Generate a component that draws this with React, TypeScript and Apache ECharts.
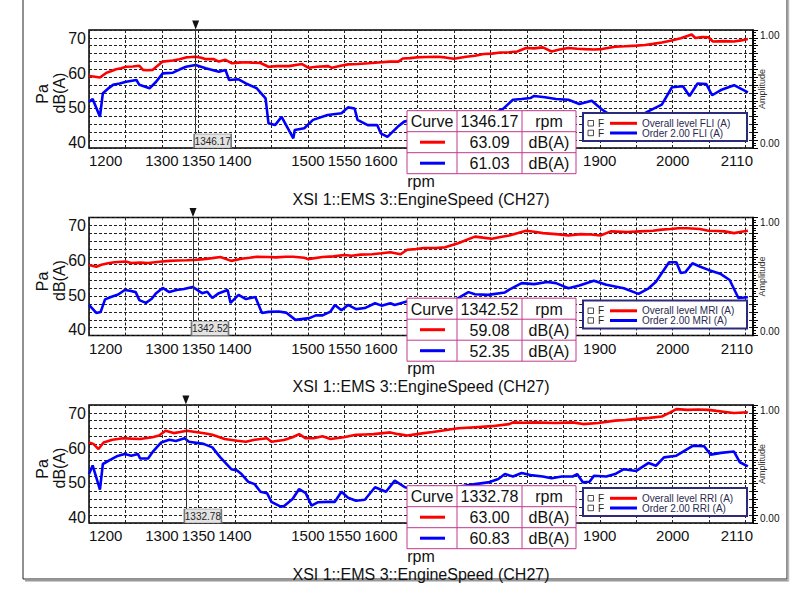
import { useEffect, useRef } from 'react';
import * as echarts from 'echarts';

// axis labels (the ones under the readout table are not shown in the original)
const rpmLabels = [1200, 1300, 1350, 1400, 1500, 1550, 1600, 1900, 2000, 2110];
const dbLabels = [40, 50, 60, 70];
const ampLabels = [0, 1];

// cursor readouts
const positions = ['FLI', 'MRI', 'RRI'];
const cursorRpm = [1346.17, 1342.52, 1332.78];
const cursorOverall = [63.09, 59.08, 63.0];
const cursorOrder2 = [61.03, 52.35, 60.83];

// [rpm, dB(A)]
const fliOverall: [number, number][] = [
  [1200, 59.1], [1206, 59.0], [1215, 58.7], [1224, 60.1], [1230, 60.5], [1237, 61.1], [1244, 61.4], [1251, 61.8],
  [1260, 61.9], [1269, 62.1], [1274, 60.9], [1280, 60.8], [1287, 60.9], [1301, 63.3], [1315, 63.6], [1324, 64.0],
  [1333, 64.5], [1340, 64.6], [1346, 64.7], [1354, 64.4], [1360, 64.0], [1371, 64.0], [1378, 63.3], [1387, 63.8],
  [1396, 62.8], [1405, 63.0], [1415, 63.1], [1423, 63.0], [1435, 62.9], [1446, 61.8], [1458, 62.0], [1474, 62.0],
  [1492, 62.6], [1501, 61.5], [1512, 61.8], [1528, 62.0], [1533, 61.5], [1545, 62.1], [1555, 62.5], [1568, 62.6],
  [1583, 62.8], [1601, 63.1], [1612, 63.3], [1624, 63.3], [1630, 64.2], [1640, 64.3], [1648, 64.5], [1662, 64.6],
  [1677, 64.7], [1688, 64.5], [1700, 64.1], [1717, 64.7], [1729, 65.0], [1741, 65.5], [1752, 65.6], [1764, 65.9],
  [1776, 66.0], [1787, 66.2], [1799, 67.2], [1810, 67.1], [1822, 67.4], [1834, 66.2], [1845, 66.8], [1857, 67.2],
  [1869, 67.0], [1880, 66.9], [1892, 66.8], [1903, 66.9], [1921, 67.6], [1935, 67.7], [1950, 67.9], [1962, 68.1],
  [1973, 68.4], [1985, 68.8], [1997, 69.3], [2011, 70.0], [2026, 71.1], [2031, 70.1], [2040, 70.4], [2049, 70.3],
  [2055, 69.1], [2070, 69.2], [2084, 69.1], [2094, 69.4], [2103, 69.8]
];
const fliOrder2: [number, number][] = [
  [1200, 51.7], [1205, 52.5], [1215, 47.4], [1219, 54.2], [1226, 55.5], [1233, 56.6], [1242, 57.0], [1251, 57.5],
  [1265, 58.0], [1269, 56.6], [1283, 55.6], [1292, 57.5], [1301, 59.9], [1315, 60.1], [1324, 61.0], [1333, 61.8],
  [1346, 62.3], [1360, 61.4], [1369, 60.9], [1378, 60.4], [1387, 60.9], [1392, 58.0], [1405, 58.2], [1415, 57.0],
  [1430, 55.6], [1442, 52.7], [1446, 45.5], [1455, 45.0], [1464, 47.4], [1480, 41.2], [1482, 43.6], [1495, 44.1],
  [1507, 46.5], [1527, 47.9], [1546, 48.4], [1555, 50.1], [1564, 49.8], [1568, 46.5], [1582, 45.0], [1595, 45.0],
  [1600, 42.6], [1609, 41.6], [1623, 44.5], [1632, 46.0], [1650, 46.8], [1665, 47.5], [1680, 46.9], [1700, 47.8],
  [1720, 48.3], [1740, 47.6], [1755, 48.6], [1767, 49.6], [1781, 52.3], [1793, 52.5], [1805, 52.8], [1810, 53.4],
  [1825, 53.0], [1840, 52.5], [1857, 52.3], [1872, 51.1], [1889, 52.0], [1903, 49.5], [1915, 47.8], [1930, 46.9],
  [1945, 47.5], [1960, 48.2], [1967, 49.0], [1985, 50.9], [1999, 55.9], [2014, 56.2], [2023, 53.4], [2034, 57.0],
  [2046, 56.8], [2054, 53.6], [2066, 55.1], [2084, 56.5], [2103, 54.4]
];
const mriOverall: [number, number][] = [
  [1200, 58.7], [1210, 58.2], [1217, 58.8], [1226, 59.2], [1235, 59.5], [1250, 59.7], [1258, 59.3], [1270, 59.4],
  [1281, 59.3], [1300, 59.7], [1310, 59.9], [1322, 60.0], [1334, 60.1], [1345, 60.2], [1357, 60.4], [1369, 60.7],
  [1380, 61.0], [1395, 59.9], [1409, 60.5], [1420, 60.8], [1430, 61.1], [1445, 61.0], [1456, 60.9], [1470, 61.1],
  [1480, 61.1], [1495, 60.8], [1500, 60.4], [1520, 61.0], [1535, 61.2], [1550, 61.6], [1560, 61.4], [1572, 61.7],
  [1588, 61.8], [1601, 62.1], [1613, 62.4], [1627, 61.8], [1636, 63.1], [1648, 63.3], [1659, 63.6], [1675, 63.6],
  [1688, 63.8], [1706, 65.0], [1718, 66.0], [1729, 66.9], [1740, 66.6], [1752, 66.3], [1764, 66.8], [1776, 67.2],
  [1788, 67.9], [1799, 68.6], [1810, 68.3], [1822, 67.9], [1840, 67.6], [1857, 67.2], [1874, 67.6], [1888, 67.5],
  [1901, 67.2], [1915, 68.4], [1938, 68.2], [1955, 68.4], [1973, 68.6], [1985, 68.9], [1997, 69.1], [2008, 69.3],
  [2020, 69.3], [2037, 69.1], [2049, 68.6], [2060, 68.5], [2071, 68.4], [2084, 67.9], [2094, 68.3], [2103, 68.6]
];
const mriOrder2: [number, number][] = [
  [1200, 47.2], [1210, 44.9], [1216, 45.2], [1222, 48.8], [1230, 49.5], [1240, 50.2], [1249, 51.5], [1256, 51.3],
  [1264, 50.9], [1269, 48.6], [1278, 47.8], [1286, 49.0], [1292, 50.6], [1301, 52.1], [1310, 50.9], [1320, 51.5],
  [1330, 51.8], [1342, 52.4], [1355, 50.6], [1362, 51.0], [1369, 49.2], [1378, 50.6], [1390, 51.5], [1394, 47.8],
  [1405, 50.1], [1415, 48.9], [1428, 49.5], [1437, 44.9], [1446, 45.2], [1460, 45.3], [1470, 45.0], [1483, 42.9],
  [1502, 43.4], [1511, 44.2], [1520, 44.2], [1531, 45.3], [1537, 47.2], [1546, 45.7], [1555, 47.2], [1566, 46.0],
  [1578, 46.3], [1592, 47.7], [1601, 47.0], [1613, 47.7], [1619, 47.2], [1639, 48.4], [1645, 47.7], [1660, 47.0],
  [1675, 48.1], [1690, 47.4], [1700, 48.5], [1706, 49.2], [1720, 50.9], [1729, 50.3], [1747, 50.1], [1770, 50.8],
  [1776, 51.6], [1793, 53.5], [1810, 53.2], [1828, 53.8], [1840, 53.5], [1857, 52.0], [1872, 52.8], [1892, 54.2],
  [1909, 53.0], [1933, 52.0], [1953, 50.4], [1967, 52.0], [1977, 53.9], [1995, 59.5], [2005, 59.5], [2011, 56.4],
  [2017, 56.6], [2027, 59.2], [2037, 58.3], [2049, 57.3], [2066, 56.1], [2078, 54.4], [2090, 49.2], [2103, 49.4]
];
const rriOverall: [number, number][] = [
  [1200, 61.6], [1206, 61.2], [1213, 59.7], [1220, 61.6], [1232, 62.4], [1247, 62.8], [1258, 62.7], [1270, 62.6],
  [1287, 63.1], [1296, 63.6], [1305, 65.0], [1316, 64.3], [1325, 64.6], [1334, 65.0], [1351, 64.5], [1360, 64.2],
  [1369, 63.8], [1378, 63.2], [1386, 62.6], [1403, 62.1], [1415, 61.8], [1427, 62.4], [1444, 62.8], [1450, 61.8],
  [1467, 62.3], [1479, 63.1], [1488, 64.0], [1497, 62.8], [1508, 62.8], [1520, 63.4], [1531, 62.6], [1549, 63.1],
  [1566, 63.8], [1578, 63.9], [1590, 64.0], [1613, 64.5], [1624, 64.0], [1636, 63.6], [1659, 64.3], [1671, 64.6],
  [1683, 65.0], [1706, 65.7], [1729, 66.0], [1752, 66.3], [1776, 66.9], [1781, 67.4], [1796, 67.3], [1810, 67.4],
  [1840, 67.2], [1863, 67.4], [1877, 66.9], [1898, 67.2], [1921, 67.9], [1935, 68.1], [1950, 68.4], [1968, 68.7],
  [1985, 69.1], [1996, 70.2], [2005, 71.2], [2020, 71.0], [2035, 71.1], [2049, 71.0], [2060, 70.7], [2072, 70.4],
  [2084, 70.1], [2103, 70.3]
];
const rriOrder2: [number, number][] = [
  [1200, 52.5], [1205, 55.0], [1215, 48.0], [1219, 55.4], [1229, 56.6], [1238, 57.6], [1249, 58.3], [1258, 57.8],
  [1267, 58.3], [1270, 57.0], [1281, 57.0], [1287, 58.8], [1299, 61.6], [1310, 62.4], [1319, 62.0], [1331, 62.8],
  [1337, 61.8], [1357, 61.2], [1369, 60.2], [1380, 57.3], [1395, 53.9], [1403, 53.5], [1409, 52.5], [1418, 50.3],
  [1427, 49.6], [1435, 47.4], [1444, 47.0], [1450, 44.5], [1462, 43.2], [1467, 43.2], [1479, 45.3], [1488, 48.2],
  [1497, 47.0], [1505, 43.4], [1514, 44.4], [1526, 44.5], [1537, 44.5], [1546, 47.4], [1555, 45.7], [1566, 44.8],
  [1578, 45.1], [1592, 48.7], [1607, 47.4], [1619, 50.6], [1633, 48.7], [1650, 48.0], [1670, 48.9], [1690, 48.2],
  [1710, 49.0], [1729, 49.6], [1747, 50.1], [1761, 51.1], [1770, 52.5], [1781, 51.8], [1793, 52.8], [1805, 52.2],
  [1822, 51.8], [1834, 51.3], [1848, 51.8], [1863, 51.8], [1869, 52.5], [1877, 50.1], [1886, 50.3], [1892, 52.0],
  [1909, 51.8], [1921, 52.5], [1933, 53.9], [1950, 53.4], [1967, 55.7], [1977, 54.9], [1988, 57.3], [2005, 57.8],
  [2028, 60.7], [2043, 60.5], [2052, 58.1], [2066, 58.6], [2084, 59.0], [2092, 55.9], [2103, 54.7]
];

const overallSeries = [fliOverall, mriOverall, rriOverall];
const orderSeries = [fliOrder2, mriOrder2, rriOrder2];

const RPM_MIN = 1200;
const RPM_MAX = 2110;
const DB_MIN = 38.4;
const DB_MAX = 72.4;
const AMP_MIN = -0.037;
const AMP_MAX = 1.046;

const FONT = '"Liberation Sans", Arial, sans-serif';
const RED = '#ff0000';
const BLUE = '#0000ff';
const panelTop = [30, 217.5, 405];
const PLOT_LEFT = 89;
const PLOT_W = 664;
const PLOT_H = 118;
const dash = { color: '#222', width: 1, type: [3, 2] as number[] };

const txt = (x: number, y: number, text: string, size: number, extra: any = {}) => ({
  type: 'text',
  x,
  y,
  z: 60,
  style: { text, fontSize: size, fontFamily: FONT, fill: '#111', align: 'center', verticalAlign: 'middle', ...extra }
});

const seg = (x1: number, y1: number, x2: number, y2: number, stroke: string, lineWidth: number) => ({
  type: 'line',
  z: 60,
  shape: { x1, y1, x2, y2 },
  style: { stroke, lineWidth }
});

// readout table next to the cursor
const tableFor = (i: number) => {
  const x0 = 407;
  const y0 = panelTop[i] + 80.7;
  const cols = [50, 65, 54];
  const rowH = 21;
  const w = cols[0] + cols[1] + cols[2];
  const border = '#c2388e';
  const cx = [x0 + cols[0] / 2, x0 + cols[0] + cols[1] / 2, x0 + cols[0] + cols[1] + cols[2] / 2];
  const els: any[] = [
    { type: 'rect', z: 59, shape: { x: x0, y: y0, width: w, height: rowH * 3 }, style: { fill: '#fff', stroke: border, lineWidth: 1 } },
    seg(x0 + cols[0], y0, x0 + cols[0], y0 + rowH * 3, border, 1),
    seg(x0 + cols[0] + cols[1], y0, x0 + cols[0] + cols[1], y0 + rowH * 3, border, 1),
    seg(x0, y0 + rowH, x0 + w, y0 + rowH, border, 1),
    seg(x0, y0 + rowH * 2, x0 + w, y0 + rowH * 2, border, 1)
  ];
  const rows = [
    ['Curve', cursorRpm[i].toFixed(2), 'rpm'],
    ['', cursorOverall[i].toFixed(2), 'dB(A)'],
    ['', cursorOrder2[i].toFixed(2), 'dB(A)']
  ];
  rows.forEach((r, ri) => {
    const cy = y0 + rowH * ri + rowH / 2 + 0.5;
    r.forEach((t, ci) => {
      if (t) els.push(txt(cx[ci], cy, t, 16));
    });
  });
  els.push(seg(x0 + 13, y0 + rowH * 1.5, x0 + 38, y0 + rowH * 1.5, RED, 3));
  els.push(seg(x0 + 13, y0 + rowH * 2.5, x0 + 38, y0 + rowH * 2.5, BLUE, 3));
  return els;
};

const legendFor = (i: number) => {
  const top = panelTop[i];
  const names = [`Overall level ${positions[i]} (A)`, `Order 2.00 ${positions[i]} (A)`];
  const colors = [RED, BLUE];
  const els: any[] = [
    { type: 'rect', z: 59, shape: { x: 583, y: top + 83, width: 164, height: 28 }, style: { fill: '#fff', stroke: '#2b2b7c', lineWidth: 2 } }
  ];
  names.forEach((n, k) => {
    const cy = top + 93.3 + k * 9.7;
    els.push({ type: 'rect', z: 60, shape: { x: 588, y: cy - 2.8, width: 5.5, height: 5.5 }, style: { fill: '#fff', stroke: '#222', lineWidth: 0.8 } });
    els.push(txt(598, cy, 'F', 10, { align: 'left', fill: '#222' }));
    els.push(seg(610, cy, 637, cy, colors[k], 3));
    els.push(txt(642, cy, n, 10, { align: 'left', fill: '#2a2a50' }));
  });
  return els;
};

const buildOption = (): echarts.EChartsOption => {
  const grid = panelTop.map(top => ({
    left: PLOT_LEFT,
    top,
    width: PLOT_W,
    height: PLOT_H,
    show: true,
    borderColor: '#000',
    borderWidth: 1.5,
    backgroundColor: 'transparent'
  }));

  const xAxis: any[] = panelTop.map((_, i) => ({
    type: 'value',
    gridIndex: i,
    min: RPM_MIN,
    max: RPM_MAX,
    interval: 50,
    axisLine: { show: false },
    axisTick: { show: false },
    splitLine: { show: true, lineStyle: dash },
    axisLabel: {
      customValues: rpmLabels,
      formatter: (v: number) => String(v),
      fontSize: 15,
      fontFamily: FONT,
      color: '#111',
      margin: 5,
      alignMinLabel: 'left',
      alignMaxLabel: 'right'
    },
    name: 'rpm',
    nameLocation: 'middle',
    nameGap: 25,
    nameTextStyle: { fontSize: 16, fontFamily: FONT, color: '#111' }
  }));

  const yAxis: any[] = [];
  panelTop.forEach((_, i) => {
    yAxis.push({
      type: 'value',
      gridIndex: i,
      position: 'left',
      min: DB_MIN,
      max: DB_MAX,
      axisLine: { show: false },
      axisTick: { show: false },
      splitLine: { show: false },
      axisLabel: { customValues: dbLabels, fontSize: 16, fontFamily: FONT, color: '#111', margin: 3 }
    });
    // plain divisions for the dashed grid and the right-hand ticks
    yAxis.push({
      type: 'value',
      gridIndex: i,
      position: 'right',
      min: 0,
      max: 15,
      interval: 1,
      axisLine: { show: true, lineStyle: { color: '#000', width: 1.5 } },
      axisTick: { show: true, length: 5, lineStyle: { color: '#000' } },
      minorTick: { show: true, splitNumber: 3, length: 3, lineStyle: { color: '#000' } },
      axisLabel: { show: false },
      splitLine: { show: true, lineStyle: dash }
    });
    yAxis.push({
      type: 'value',
      gridIndex: i,
      position: 'right',
      min: AMP_MIN,
      max: AMP_MAX,
      axisLine: { show: false },
      axisTick: { show: false },
      splitLine: { show: false },
      axisLabel: {
        customValues: ampLabels,
        formatter: (v: number) => Math.abs(v).toFixed(2),
        fontSize: 10,
        fontFamily: FONT,
        color: '#111',
        margin: 7
      },
      name: 'Amplitude',
      nameLocation: 'middle',
      nameRotate: 90,
      nameGap: 4,
      nameMoveOverlap: false,
      nameTextStyle: { fontSize: 9, fontFamily: FONT, color: '#333' }
    });
  });

  const series: any[] = [];
  panelTop.forEach((_, i) => {
    const c = cursorRpm[i];
    series.push({
      name: `Overall level ${positions[i]} (A)`,
      type: 'line',
      xAxisIndex: i,
      yAxisIndex: i * 3,
      data: overallSeries[i],
      showSymbol: false,
      z: 4,
      lineStyle: { color: RED, width: 2.6 },
      itemStyle: { color: RED },
      markLine: {
        silent: true,
        symbol: 'none',
        label: { show: false },
        lineStyle: { color: '#333', width: 1, type: 'solid' },
        data: [{ xAxis: c }]
      },
      markPoint: {
        silent: true,
        data: [
          {
            coord: [c, DB_MAX],
            symbol: 'triangle',
            symbolRotate: 180,
            symbolSize: [7, 9],
            symbolOffset: [0, -5],
            itemStyle: { color: '#111' },
            label: { show: false }
          },
          {
            coord: [c, DB_MIN],
            symbol: 'rect',
            symbolSize: [37, 14],
            symbolOffset: [17, -7],
            itemStyle: { color: '#e3e3e3', borderColor: '#777', borderWidth: 1 },
            label: { show: true, position: 'inside', formatter: c.toFixed(2), fontSize: 10, fontFamily: FONT, color: '#222' }
          }
        ]
      }
    });
    series.push({
      name: `Order 2.00 ${positions[i]} (A)`,
      type: 'line',
      xAxisIndex: i,
      yAxisIndex: i * 3,
      data: orderSeries[i],
      showSymbol: false,
      z: 3,
      lineStyle: { color: BLUE, width: 2.6 },
      itemStyle: { color: BLUE }
    });
  });

  const graphic: any[] = [
    { type: 'rect', z: 60, shape: { x: 23, y: -10, width: 764, height: 589 }, style: { fill: 'none', stroke: '#222', lineWidth: 1 } },
    seg(25, 580.5, 789, 580.5, '#999', 2),
    seg(788.5, 0, 788.5, 581, '#bbb', 1.5)
  ];
  panelTop.forEach((top, i) => {
    graphic.push({ ...txt(42, top + 64, 'Pa', 16), rotation: Math.PI / 2 });
    graphic.push({ ...txt(59, top + 63, 'dB(A)', 16), rotation: Math.PI / 2 });
    graphic.push(txt(421, top + 169, 'XSI 1::EMS 3::EngineSpeed (CH27)', 16));
    graphic.push(...tableFor(i));
    graphic.push(...legendFor(i));
  });

  return {
    animation: false,
    backgroundColor: '#fff',
    textStyle: { fontFamily: FONT },
    grid,
    xAxis,
    yAxis,
    series,
    graphic
  };
};

export default function App() {
  const ref = useRef<HTMLDivElement>(null);

  useEffect(() => {
    if (!ref.current) return;
    const chart = echarts.init(ref.current, null, { renderer: 'svg' });
    chart.setOption(buildOption());
    return () => {
      chart.dispose();
    };
  }, []);

  return <div ref={ref} style={{ position: 'fixed', left: 0, top: 0, width: 808, height: 595, background: '#fff' }} />;
}
